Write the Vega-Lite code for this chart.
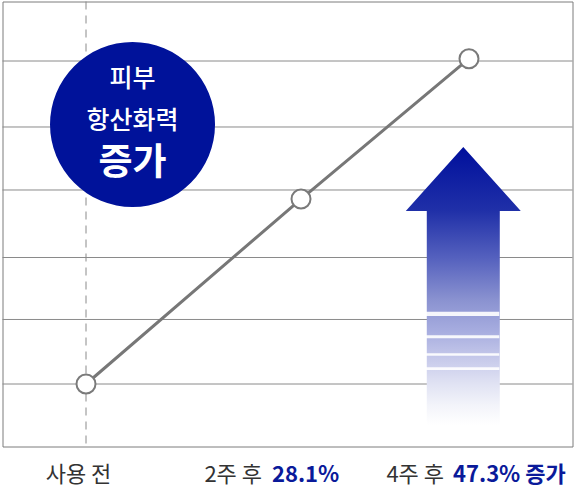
{
  "$schema": "https://vega.github.io/schema/vega-lite/v6.json",
  "width": 570,
  "height": 445,
  "autosize": {"type": "none"},
  "padding": {"left": 2.5, "top": 1.5, "right": 2.5, "bottom": 41.5},
  "background": "white",
  "config": {
    "view": {"stroke": "#7d7d7d", "strokeWidth": 1},
    "font": "Noto Sans CJK KR"
  },
  "datasets": {
    "grid": [
      {"level": 6.064}, {"level": 5.026}, {"level": 4.035},
      {"level": 2.973}, {"level": 1.998}, {"level": 0.983}
    ],
    "series": [
      {"stage": "사용 전", "pos": 14.65, "value": 0.983},
      {"stage": "2주 후", "pos": 52.37, "value": 3.893},
      {"stage": "4주 후", "pos": 81.84, "value": 6.10}
    ],
    "badge": [
      {"line": "피부", "pos": 22.81, "row": 5.78, "kind": "normal"},
      {"line": "항산화력", "pos": 22.81, "row": 5.12, "kind": "normal"},
      {"line": "증가", "pos": 22.81, "row": 4.45, "kind": "bold"}
    ],
    "arrow": [{"pos": 80.84, "row": 2.525}],
    "gaps": [
      {"x0": 74.3, "x1": 87.16, "top": 2.120, "bottom": 2.053},
      {"x0": 74.3, "x1": 87.16, "top": 1.749, "bottom": 1.702},
      {"x0": 74.3, "x1": 87.16, "top": 1.466, "bottom": 1.428},
      {"x0": 74.3, "x1": 87.16, "top": 1.246, "bottom": 1.203}
    ],
    "plainLabels": [
      {"text": "사용 전", "pos": 13.33, "anchor": "center"},
      {"text": "2주 후", "pos": 45.53, "anchor": "right"},
      {"text": "4주 후", "pos": 77.46, "anchor": "right"}
    ],
    "highLabels": [
      {"text": "28.1%", "pos": 47.28},
      {"text": "47.3% 증가", "pos": 79.04}
    ]
  },
  "layer": [
    {
      "data": {"name": "grid"},
      "mark": {"type": "rule", "color": "#8a8a8a", "strokeWidth": 1},
      "encoding": {
        "y": {"field": "level", "type": "quantitative", "scale": {"domain": [0, 7], "nice": false, "zero": false}, "axis": null}
      }
    },
    {
      "data": {"name": "series"},
      "transform": [{"filter": "datum.stage === '사용 전'"}],
      "mark": {"type": "rule", "color": "#8a8a8a", "strokeWidth": 1, "strokeDash": [8, 6]},
      "encoding": {
        "x": {"field": "pos", "type": "quantitative", "scale": {"domain": [0, 100], "nice": false, "zero": false}, "axis": null}
      }
    },
    {
      "data": {"name": "badge"},
      "transform": [{"filter": "datum.kind === 'bold'"}],
      "mark": {"type": "point", "shape": "circle", "filled": true, "opacity": 1, "color": "#00129a", "size": 27225},
      "encoding": {
        "x": {"datum": 22.81, "type": "quantitative"},
        "y": {"datum": 5.065, "type": "quantitative"}
      }
    },
    {
      "data": {"name": "badge"},
      "transform": [{"filter": "datum.kind === 'normal'"}],
      "mark": {"type": "text", "color": "white", "fontSize": 25, "fontWeight": 500, "align": "center", "baseline": "middle"},
      "encoding": {
        "x": {"field": "pos", "type": "quantitative"},
        "y": {"field": "row", "type": "quantitative"},
        "text": {"field": "line"}
      }
    },
    {
      "data": {"name": "badge"},
      "transform": [{"filter": "datum.kind === 'bold'"}],
      "mark": {"type": "text", "color": "white", "fontSize": 37, "fontWeight": "bold", "align": "center", "baseline": "middle"},
      "encoding": {
        "x": {"field": "pos", "type": "quantitative"},
        "y": {"field": "row", "type": "quantitative"},
        "text": {"field": "line"}
      }
    },
    {
      "data": {"name": "arrow"},
      "mark": {
        "type": "point",
        "filled": true,
        "opacity": 1,
        "size": 77284,
        "shape": "M0,-1L0.4137,-0.5396L0.2626,-0.5396L0.2626,1L-0.2626,1L-0.2626,-0.5396L-0.4137,-0.5396Z",
        "strokeWidth": 0,
        "fill": {
          "gradient": "linear",
          "x1": 0, "y1": 0, "x2": 0, "y2": 1,
          "stops": [
            {"offset": 0, "color": "#000f9c"},
            {"offset": 0.23, "color": "#2030a8"},
            {"offset": 0.4, "color": "#5561be"},
            {"offset": 0.55, "color": "#8a92d0"},
            {"offset": 0.66, "color": "#a6acdf"},
            {"offset": 0.76, "color": "#c6c9ea"},
            {"offset": 0.85, "color": "#e0e2f3"},
            {"offset": 0.93, "color": "#f3f4fa"},
            {"offset": 1, "color": "#ffffff"}
          ]
        }
      },
      "encoding": {
        "x": {"field": "pos", "type": "quantitative"},
        "y": {"field": "row", "type": "quantitative"}
      }
    },
    {
      "data": {"name": "gaps"},
      "mark": {"type": "rect", "color": "#ffffff", "opacity": 0.9},
      "encoding": {
        "x": {"field": "x0", "type": "quantitative"},
        "x2": {"field": "x1"},
        "y": {"field": "top", "type": "quantitative"},
        "y2": {"field": "bottom"}
      }
    },
    {
      "data": {"name": "series"},
      "mark": {"type": "line", "color": "#777777", "strokeWidth": 3},
      "encoding": {
        "x": {"field": "pos", "type": "quantitative"},
        "y": {"field": "value", "type": "quantitative"}
      }
    },
    {
      "data": {"name": "series"},
      "mark": {"type": "point", "shape": "circle", "filled": true, "opacity": 1, "fill": "white", "stroke": "#7a7a7a", "strokeWidth": 2, "size": 361},
      "encoding": {
        "x": {"field": "pos", "type": "quantitative"},
        "y": {"field": "value", "type": "quantitative"}
      }
    },
    {
      "data": {"name": "plainLabels"},
      "transform": [{"filter": "datum.anchor === 'center'"}],
      "mark": {"type": "text", "color": "#333333", "fontSize": 22, "align": "center", "baseline": "middle"},
      "encoding": {
        "x": {"field": "pos", "type": "quantitative"},
        "y": {"datum": -0.45, "type": "quantitative"},
        "text": {"field": "text"}
      }
    },
    {
      "data": {"name": "plainLabels"},
      "transform": [{"filter": "datum.anchor === 'right'"}],
      "mark": {"type": "text", "color": "#333333", "fontSize": 22, "align": "right", "baseline": "middle"},
      "encoding": {
        "x": {"field": "pos", "type": "quantitative"},
        "y": {"datum": -0.45, "type": "quantitative"},
        "text": {"field": "text"}
      }
    },
    {
      "data": {"name": "highLabels"},
      "mark": {"type": "text", "color": "#0a1a9a", "fontSize": 22, "fontWeight": "bold", "align": "left", "baseline": "middle"},
      "encoding": {
        "x": {"field": "pos", "type": "quantitative"},
        "y": {"datum": -0.45, "type": "quantitative"},
        "text": {"field": "text"}
      }
    }
  ]
}
